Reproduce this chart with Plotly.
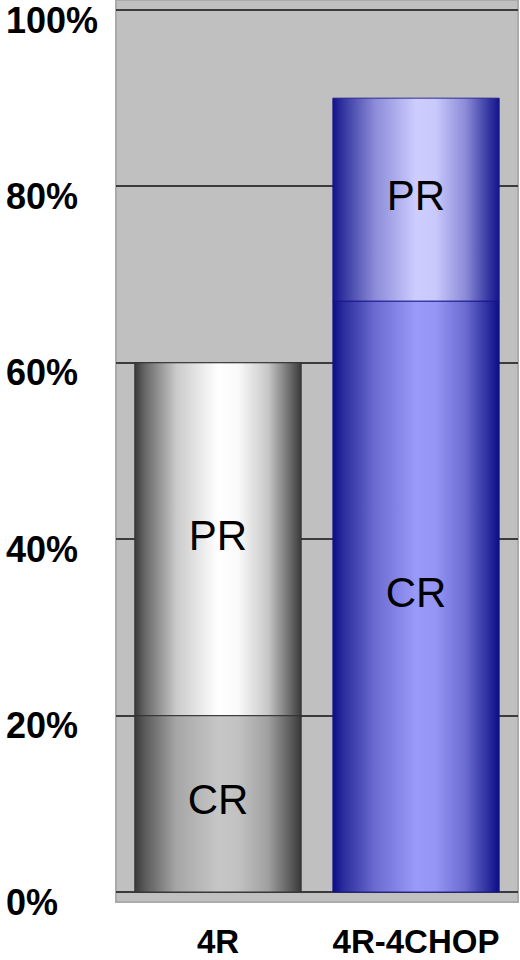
import plotly.graph_objects as go

# response rates per arm (percent of patients)
groups = ["4R", "4R-4CHOP"]
cr = [20, 67]   # complete response
pr = [40, 23]   # partial response
segment_names = ["CR", "PR"]

y_ticks = [0, 20, 40, 60, 80, 100]
y_tick_labels = ["0%", "20%", "40%", "60%", "80%", "100%"]

# cylinder-like horizontal shading, one per arm and segment
shades = {
    ("4R", "CR"): [[0, "#3a3a3a"], [0.06, "#5a5a5a"], [0.25, "#a6a6a6"], [0.5, "#c6c6c6"],
                   [0.62, "#c2c2c2"], [0.8, "#a0a0a0"], [0.94, "#5a5a5a"], [1, "#383838"]],
    ("4R", "PR"): [[0, "#3a3a3a"], [0.06, "#666666"], [0.25, "#cacaca"], [0.5, "#ffffff"],
                   [0.62, "#fafafa"], [0.8, "#c8c8c8"], [0.94, "#666666"], [1, "#3a3a3a"]],
    ("4R-4CHOP", "CR"): [[0, "#0c0c88"], [0.06, "#2a2a9c"], [0.25, "#6a6ad0"], [0.5, "#9a9afa"],
                         [0.62, "#9595f5"], [0.8, "#6a6ad0"], [0.94, "#2a2a9c"], [1, "#0c0c88"]],
    ("4R-4CHOP", "PR"): [[0, "#14148c"], [0.06, "#3434a0"], [0.25, "#8a8ad8"], [0.5, "#cdcdff"],
                         [0.62, "#c8c8fa"], [0.8, "#8a8ad8"], [0.94, "#3434a0"], [1, "#14148c"]],
}
edge_colors = {"4R": "#333333", "4R-4CHOP": "rgba(20,20,140,0.85)"}
bar_width = 0.84

fig = go.Figure()

label_x, label_y, label_text = [], [], []
for i, g in enumerate(groups):
    base = 0
    for name, val in zip(segment_names, [cr[i], pr[i]]):
        top = base + val
        x0, x1 = i - bar_width / 2, i + bar_width / 2
        fig.add_trace(go.Scatter(
            x=[x0, x1, x1, x0, x0],
            y=[base, base, top, top, base],
            mode="lines",
            fill="toself",
            fillgradient=dict(type="horizontal", colorscale=shades[(g, name)]),
            line=dict(color=edge_colors[g], width=1),
            hoverinfo="skip",
            showlegend=False,
        ))
        label_x.append(i)
        label_y.append(base + val / 2)
        label_text.append(name)
        base = top

fig.add_trace(go.Scatter(
    x=label_x, y=label_y, text=label_text, mode="text",
    textfont=dict(family="Liberation Sans, Arial", size=42, color="black"),
    hoverinfo="skip", showlegend=False,
))

fig.update_layout(
    width=520, height=960,
    margin=dict(l=0, r=2, t=0, b=58),
    paper_bgcolor="white",
    plot_bgcolor="#c0c0c0",
    font=dict(family="Liberation Sans, Arial", color="black"),
    xaxis=dict(
        domain=[116 / 518, 1],
        range=[-0.515, 1.515],
        tickvals=list(range(len(groups))),
        ticktext=groups,
        tickfont=dict(size=33, weight="bold", color="black"),
        showgrid=False, zeroline=False, showline=False,
        ticks="", ticklabelstandoff=17, automargin=False,
    ),
    yaxis=dict(
        anchor="free", position=0,
        range=[-1.13, 101.13],
        tickvals=y_ticks,
        ticktext=y_tick_labels,
        tickfont=dict(size=36, weight="bold", color="black"),
        ticklabelposition="inside",
        ticklabeloverflow="allow",
        ticklabelshift=10,
        ticklabelstandoff=2,
        ticks="",
        showgrid=True, gridcolor="#3c3c3c", gridwidth=1.5,
        zeroline=False, showline=False, automargin=False,
    ),
    shapes=[dict(type="rect", xref="x domain", yref="y domain", x0=0, x1=1, y0=0, y1=1,
                 line=dict(color="#aaaaaa", width=2), layer="below")],
)

# the page body has a default margin; drop it so the figure sits at the corner
fig.write_html("out.html", config={"displayModeBar": False},
               post_script="document.body.style.margin='0';")
